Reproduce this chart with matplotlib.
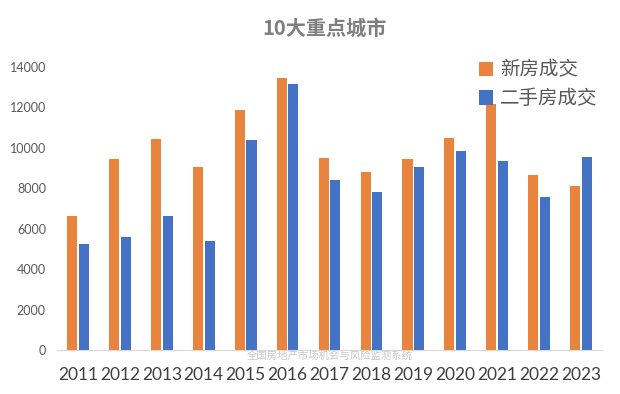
import matplotlib.pyplot as plt
import numpy as np

years = ["2011", "2012", "2013", "2014", "2015", "2016", "2017",
         "2018", "2019", "2020", "2021", "2022", "2023"]
new_homes = [6640, 9450, 10440, 9060, 11880, 13470, 9520,
             8830, 9470, 10470, 12150, 8680, 8130]
resale_homes = [5250, 5600, 6650, 5400, 10400, 13180, 8430,
                7840, 9070, 9820, 9370, 7590, 9570]

plt.rcParams['font.family'] = ['Lato', 'Noto Sans CJK SC', 'DejaVu Sans']

fig = plt.figure(figsize=(6.2, 3.94), dpi=100)
ax = fig.add_axes([57/620, 1 - 350/394, 545/620, 283/394])

x = np.arange(len(years))
w = 0.24
ax.bar(x - 0.14, new_homes, w, color="#E8843D", label="新房成交")
ax.bar(x + 0.14, resale_homes, w, color="#4472C4", label="二手房成交")

ax.set_xlim(-0.5, len(years) - 0.5)
ax.set_ylim(0, 14000)
ax.set_yticks(range(0, 14001, 2000))
ax.set_xticks(x)
ax.set_xticklabels(years, fontsize=12.5, color="#404040")
ax.tick_params(axis="y", labelsize=9, colors="#595959", length=0, pad=8)
ax.tick_params(axis="x", length=0, pad=12)

for s in ["top", "right", "left"]:
    ax.spines[s].set_visible(False)
ax.spines["bottom"].set_color("#d9d9d9")

fig.text(325/620, 1 - 28/394, "10大重点城市", ha="center", va="center",
         fontsize=14.5, fontweight="bold", color="#7f7f7f",
         family=["Noto Sans CJK SC", "DejaVu Sans"])
fig.text(330/620, 1 - 356/394, "全国房地产市场机会与风险监测系统", ha="center",
         va="center", fontsize=7.5, color="#c8c8c8",
         family=["Noto Sans CJK SC", "DejaVu Sans"])

fig.legend(loc="upper left", bbox_to_anchor=(461/620, 1 - 42/394),
           frameon=False, handlelength=0.75, handleheight=0.75,
           handletextpad=0.35, labelspacing=0.4,
           prop={"family": ["Noto Sans CJK SC", "DejaVu Sans"], "size": 14},
           labelcolor="#595959")

fig.savefig("out.png", dpi=100)
